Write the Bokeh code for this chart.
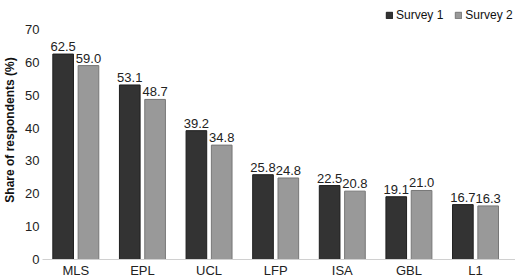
from bokeh.plotting import figure
from bokeh.models import Range1d, FixedTicker, ColumnDataSource, Legend, LegendItem
from bokeh.transform import dodge
from bokeh.embed import file_html
from bokeh.resources import INLINE

cats = ["MLS", "EPL", "UCL", "LFP", "ISA", "GBL", "L1"]
survey1 = [62.5, 53.1, 39.2, 25.8, 22.5, 19.1, 16.7]
survey2 = [59.0, 48.7, 34.8, 24.8, 20.8, 21.0, 16.3]
y_ticks = [0, 10, 20, 30, 40, 50, 60, 70]

FONT = "Liberation Sans"
xs = list(range(len(cats)))
src = ColumnDataSource(dict(
    x=xs, s1=survey1, s2=survey2,
    l1=[f"{v:.1f}" for v in survey1],
    l2=[f"{v:.1f}" for v in survey2],
))

p = figure(width=515, height=280, output_backend="svg", toolbar_location=None,
           x_range=Range1d(-0.5, len(cats) - 0.5 + 0.1),
           y_range=Range1d(0, 78.8))
p.min_border_left = 40
p.min_border_right = 0
p.min_border_top = 0
p.min_border_bottom = 21
p.outline_line_color = None
p.background_fill_color = "white"
p.border_fill_color = "white"
p.xgrid.grid_line_color = None
p.ygrid.grid_line_color = None

off = 0.19
w = 0.31
r1 = p.vbar(x=dodge("x", -off), top="s1", width=w, source=src,
            fill_color="#333333", line_color="#1f1f1f", line_width=1)
r2 = p.vbar(x=dodge("x", off), top="s2", width=w, source=src,
            fill_color="#999999", line_color="#777777", line_width=1)

p.text(x=dodge("x", -off), y="s1", text="l1", source=src, y_offset=-3,
       text_align="center", text_baseline="bottom",
       text_font_size="13px", text_color="#222222", text_font={"value": FONT})
p.text(x=dodge("x", off), y="s2", text="l2", source=src, y_offset=-3,
       text_align="center", text_baseline="bottom",
       text_font_size="13px", text_color="#222222", text_font={"value": FONT})

# axes
p.xaxis.ticker = FixedTicker(ticks=xs)
p.xaxis.major_label_overrides = {i: c for i, c in zip(xs, cats)}
p.xaxis.major_tick_line_color = None
p.xaxis.minor_tick_line_color = None
p.xaxis.major_tick_out = 0
p.xaxis.major_tick_in = 0
p.xaxis.minor_tick_out = 0
p.xaxis.axis_line_color = "#d0d0d0"
p.xaxis.major_label_standoff = 3
p.xaxis.major_label_text_font = FONT
p.xaxis.major_label_text_font_size = "13px"
p.xaxis.major_label_text_color = "#222222"

p.yaxis.ticker = FixedTicker(ticks=y_ticks)
p.yaxis.major_tick_line_color = None
p.yaxis.minor_tick_line_color = None
p.yaxis.major_tick_out = 0
p.yaxis.major_tick_in = 0
p.yaxis.minor_tick_out = 0
p.yaxis.axis_line_color = None
p.yaxis.major_label_standoff = 3
p.yaxis.major_label_text_font = FONT
p.yaxis.major_label_text_font_size = "13px"
p.yaxis.major_label_text_color = "#222222"
p.yaxis.axis_label = "Share of respondents (%)"
p.yaxis.axis_label_text_font = FONT
p.yaxis.axis_label_text_font_style = "bold"
p.yaxis.axis_label_text_font_size = "12px"
p.yaxis.axis_label_text_color = "#111111"
p.yaxis.axis_label_standoff = 5

legend = Legend(items=[LegendItem(label="Survey 1", renderers=[r1]),
                       LegendItem(label="Survey 2", renderers=[r2])],
                orientation="horizontal", location=(343, 237),
                glyph_width=8, glyph_height=8, label_height=12,
                label_width=46,
                label_standoff=3, spacing=11, padding=0, margin=0,
                border_line_color=None, background_fill_alpha=0,
                label_text_font=FONT, label_text_font_size="12px",
                label_text_color="#111111")
p.add_layout(legend)

open("out.html", "w").write(file_html(p, INLINE))
